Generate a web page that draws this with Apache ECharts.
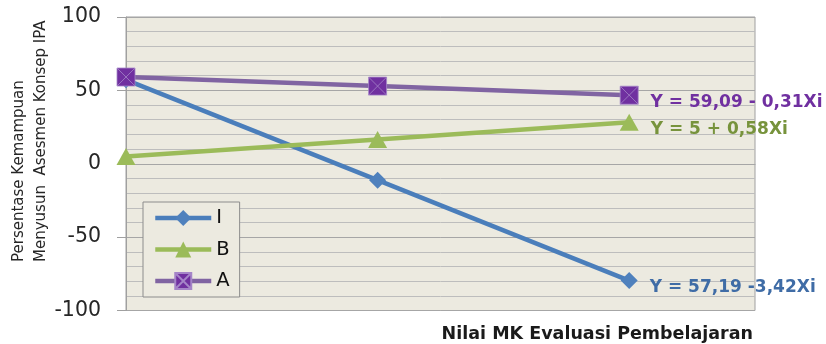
<!DOCTYPE html>
<html>
<head>
<meta charset="utf-8">
<script src="https://cdn.jsdelivr.net/npm/echarts@6/dist/echarts.min.js"></script>
<style>
  html, body { margin: 0; padding: 0; background: #ffffff; }
  #chart { width: 826px; height: 344px; }
</style>
</head>
<body>
<div id="chart"></div>
<script>
// Nilai MK Evaluasi Pembelajaran (Xi) on the x axis
const xValues = [0, 20, 40];
const seriesNames = ['I', 'B', 'A'];
const seriesI = [57.2, -11.2, -79.6];
const seriesB = [5, 16.6, 28.2];
const seriesA = [59.1, 52.9, 46.7];
const equationLabels = ['Y = 57,19 -3,42Xi', 'Y = 5 + 0,58Xi', 'Y = 59,09 - 0,31Xi'];
const yTickLabels = [-100, -50, 0, 50, 100];

const FONT = '"DejaVu Sans", sans-serif';
const lineColors = ['#4A7EBB', '#9BBB59', '#8064A2'];
const markerColors = ['#4F81BD', '#9BBB59', '#7030A0'];
const labelColors = ['#3F6CA6', '#77933C', '#7030A0'];
const symbols = ['diamond', 'triangle', 'path://M0,0L10,0L10,10L0,10Z M0,0L10,10 M10,0L0,10'];
const symbolSizes = [17, [19, 17], 18];
const allValues = [seriesI, seriesB, seriesA];

function buildSeries(idx) {
  const vals = allValues[idx];
  return {
    name: seriesNames[idx],
    type: 'line',
    yAxisIndex: 0,
    symbol: symbols[idx],
    symbolSize: symbolSizes[idx],
    lineStyle: { color: lineColors[idx], width: 4.5 },
    itemStyle: idx === 2
      ? { color: markerColors[idx], borderColor: '#A585C8', borderWidth: 0.8 }
      : { color: markerColors[idx] },
    emphasis: { disabled: true },
    clip: false,
    data: vals.map((v, i) => {
      const item = { value: [xValues[i], v] };
      if (i === vals.length - 1) {
        item.label = {
          show: true,
          position: 'right',
          distance: 12,
          offset: [0, 7],
          formatter: equationLabels[idx],
          color: labelColors[idx],
          fontFamily: FONT,
          fontWeight: 'bold',
          fontSize: 17
        };
      }
      return item;
    })
  };
}

const chart = echarts.init(document.getElementById('chart'), null, { renderer: 'canvas' });
chart.setOption({
  animation: false,
  backgroundColor: '#ffffff',
  grid: {
    left: 126, right: 71, top: 17, bottom: 33.5,
    show: true,
    backgroundColor: '#ECEAE0',
    borderColor: '#A0A0A0',
    borderWidth: 1
  },
  legend: {
    orient: 'vertical',
    left: 143, top: 202,
    data: seriesNames,
    backgroundColor: '#ECEAE0',
    borderColor: '#8C8C8C',
    borderWidth: 1,
    borderRadius: 0,
    padding: [6, 10, 6, 10],
    itemWidth: 56,
    itemHeight: 20,
    itemGap: 11.5,
    lineStyle: { width: 4.5 },
    textStyle: { fontFamily: FONT, fontSize: 19.5, color: '#111' }
  },
  xAxis: {
    type: 'value',
    min: 0, max: 50,
    axisLine: { show: true, lineStyle: { color: '#A0A0A0', width: 1 } },
    axisTick: { show: false },
    axisLabel: { show: false },
    splitLine: { show: false }
  },
  yAxis: [
    {
      type: 'value',
      position: 'left',
      min: yTickLabels[0], max: yTickLabels[yTickLabels.length - 1],
      interval: 50,
      z: 1,
      axisLine: { show: true, lineStyle: { color: '#A0A0A0', width: 1 } },
      axisTick: { show: true, length: 9, lineStyle: { color: '#A0A0A0' } },
      axisLabel: { margin: 25, fontFamily: FONT, fontSize: 20.5, color: '#262626' },
      splitLine: { show: true, lineStyle: { color: '#A6A6A6', width: 1 } }
    },
    {
      type: 'value',
      position: 'left',
      min: -100, max: 100,
      interval: 10,
      z: 0,
      axisLine: { show: false },
      axisTick: { show: false },
      axisLabel: { show: false },
      splitLine: { show: true, lineStyle: { color: '#BDBDBD', width: 1 } }
    }
  ],
  graphic: [
    {
      type: 'text', x: 19, y: 262, rotation: Math.PI / 2,
      style: { text: 'Persentase Kemampuan', fontFamily: FONT, fontSize: 15, fill: '#262626', align: 'left', verticalAlign: 'middle' }
    },
    {
      type: 'text', x: 41, y: 262, rotation: Math.PI / 2,
      style: { text: 'Menyusun  Asesmen Konsep IPA', fontFamily: FONT, fontSize: 15, fill: '#262626', align: 'left', verticalAlign: 'middle' }
    },
    {
      type: 'text', x: 753, y: 334,
      style: { text: 'Nilai MK Evaluasi Pembelajaran', fontFamily: FONT, fontSize: 17.5, fontWeight: 'bold', fill: '#1a1a1a', align: 'right', verticalAlign: 'middle' }
    }
  ],
  series: [buildSeries(0), buildSeries(1), buildSeries(2)]
});
</script>
</body>
</html>
